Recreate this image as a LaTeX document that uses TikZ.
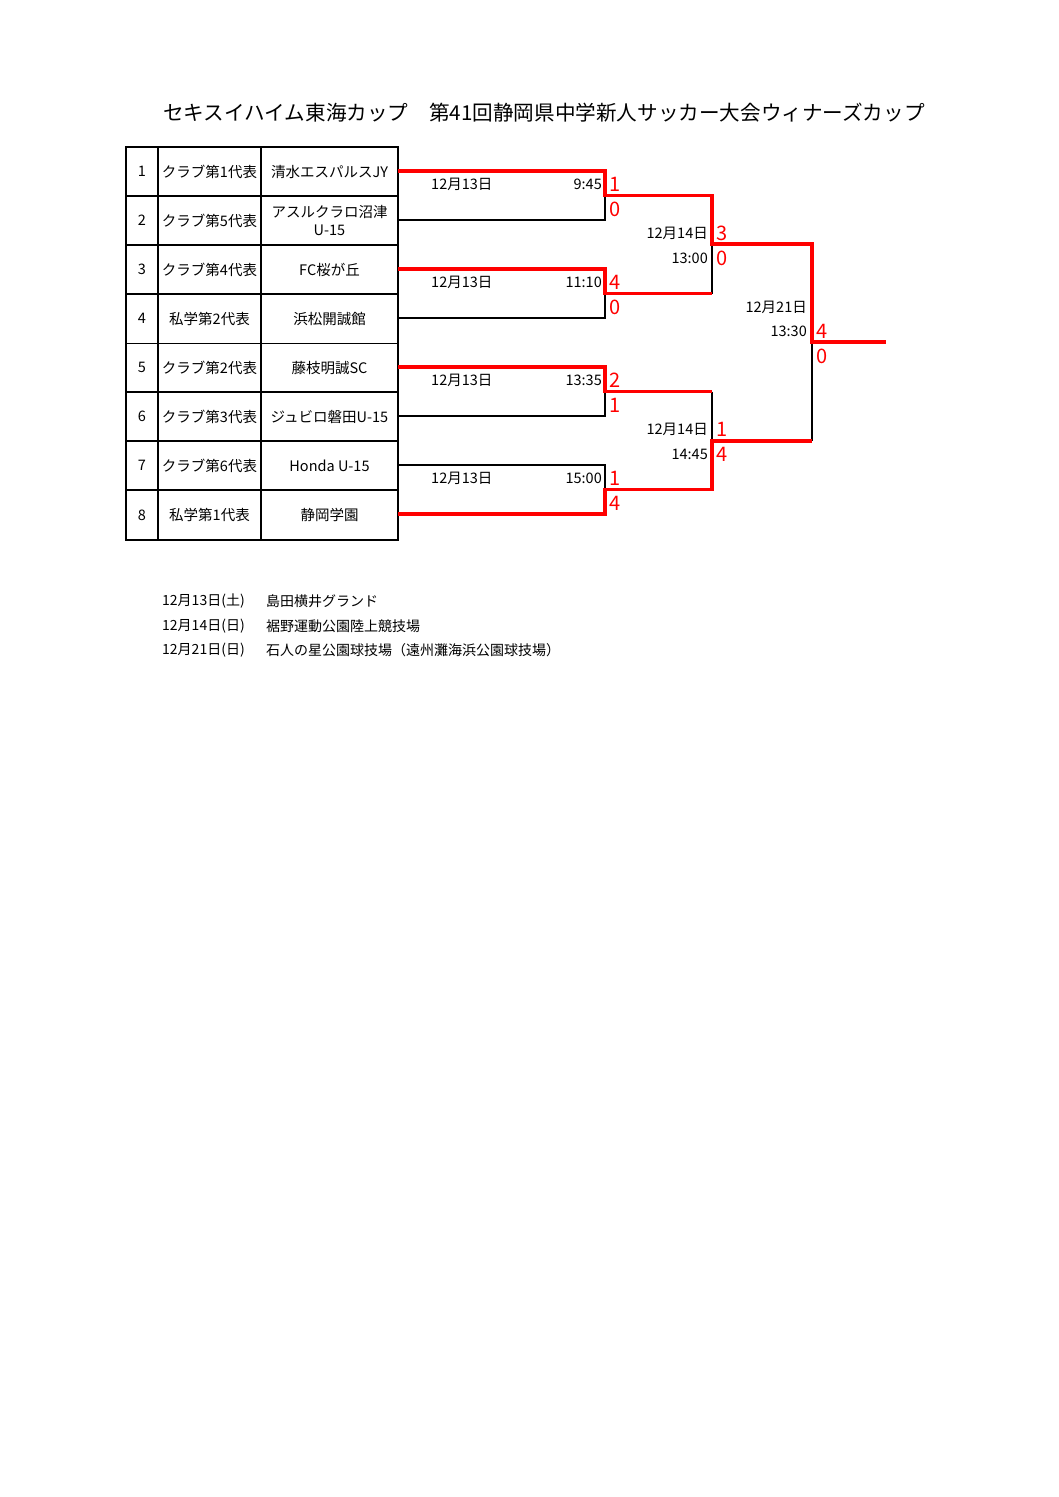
\documentclass[tikz,border=0pt]{standalone}
\usepackage{fontspec}
\setmainfont{Noto Sans CJK JP}
\begin{document}
\begin{tikzpicture}[x=1pt,y=-1pt,
  cell/.style={inner sep=0pt, font=\fontsize{14.5}{18}\selectfont, align=center},
  lbl/.style={inner sep=0pt, font=\fontsize{14.5}{16}\selectfont},
  note/.style={inner sep=0pt, anchor=west, font=\fontsize{14}{16}\selectfont},
  score/.style={inner sep=0pt, anchor=west, text=red, font=\fontsize{20}{22}\selectfont},
  thinline/.style={line width=1.2pt, black},
  winline/.style={line width=3.6pt, red, line join=miter},
  grid/.style={line width=1.4pt, black}]
\useasboundingbox (0,0) rectangle (1058,1497);

% title
\node[inner sep=0pt, anchor=west, font=\fontsize{20.6}{22}\selectfont] (title) at (163,113) {セキスイハイム東海カップ　第41回静岡県中学新人サッカー大会ウィナーズカップ};

% table grid
\draw[grid] (126,147) rectangle (398,540);
\draw[grid] (158,147) -- (158,540);
\draw[grid] (261,147) -- (261,540);
\foreach \yy in {196,245,294,343.5,392,441,490} \draw[grid] (126,\yy) -- (398,\yy);

% table cells
\foreach \i/\yc/\rep/\team in {
  1/171.5/クラブ第1代表/清水エスパルスJY,
  3/269.5/クラブ第4代表/FC桜が丘,
  4/318.75/私学第2代表/浜松開誠館,
  5/367.75/クラブ第2代表/藤枝明誠SC,
  6/416.5/クラブ第3代表/ジュビロ磐田U-15,
  7/465.5/クラブ第6代表/Honda U-15,
  8/515/私学第1代表/静岡学園}{
  \node[cell] (num\i) at (142,\yc) {\i};
  \node[cell] (rep\i) at (209.5,\yc) {\rep};
  \node[cell] (team\i) at (329.5,\yc) {\team};
}
\node[cell] (num2) at (142,220.5) {2};
\node[cell] (rep2) at (209.5,220.5) {クラブ第5代表};
\node[cell] (team2) at (329.5,220.5) {アスルクラロ沼津\\U-15};

% bracket coordinates
\foreach \i/\yy in {1/171,2/220,3/269,4/318,5/367,6/416,7/465,8/514}{
  \coordinate (t\i) at (398,\yy);
  \coordinate (e\i) at (605,\yy);
}
\coordinate (m1) at (605,195.5); \coordinate (n1) at (712,195.5);
\coordinate (m2) at (605,293.5); \coordinate (n2) at (712,293.5);
\coordinate (m3) at (605,391.5); \coordinate (n3) at (712,391.5);
\coordinate (m4) at (605,489.5); \coordinate (n4) at (712,489.5);
\coordinate (s1) at (712,244); \coordinate (u1) at (812,244);
\coordinate (s2) at (712,441); \coordinate (u2) at (812,441);
\coordinate (f) at (812,342); \coordinate (champ) at (886,342);

% losers (black)
\draw[thinline] (t2) -- (e2) -- (m1);
\draw[thinline] (t4) -- (e4) -- (m2);
\draw[thinline] (t6) -- (e6) -- (m3);
\draw[thinline] (t7) -- (e7) -- (m4);
\draw[thinline] (s1) -- (n2);
\draw[thinline] (n3) -- (s2);
\draw[thinline] (f) -- (u2);

% winners (red)
\draw[winline] (t1) -- (e1) -- (m1) -- (n1) -- (s1) -- (u1) -- (f) -- (champ);
\draw[winline] (t3) -- (e3) -- (m2) -- (n2);
\draw[winline] (t5) -- (e5) -- (m3) -- (n3);
\draw[winline] (t8) -- (e8) -- (m4) -- (n4) -- (s2) -- (u2);

% round 1 labels
\foreach \k/\yy/\yb/\tm/\sa/\sb in {1/184/209/9:45/1/0, 2/282/307/11:10/4/0, 3/380/405/13:35/2/1, 4/478/503/15:00/1/4}{
  \node[lbl, anchor=west] (d\k) at (431,\yy) {12月13日};
  \node[lbl, anchor=east] (h\k) at (602,\yy) {\tm};
  \node[score] (sa\k) at (609,\yy) {\sa};
  \node[score] (sb\k) at (609,\yb) {\sb};
}
% semifinal labels
\foreach \k/\yy/\yb/\tm/\sa/\sb in {5/233/258/13:00/3/0, 6/429/454/14:45/1/4}{
  \node[lbl, anchor=east] (d\k) at (708,\yy) {12月14日};
  \node[lbl, anchor=east] (h\k) at (708,\yb) {\tm};
  \node[score] (sa\k) at (716,\yy) {\sa};
  \node[score] (sb\k) at (716,\yb) {\sb};
}
% final labels
\node[lbl, anchor=east] (d7) at (807,307) {12月21日};
\node[lbl, anchor=east] (h7) at (807,331) {13:30};
\node[score] (sa7) at (816,331) {4};
\node[score] (sb7) at (816,356) {0};

% venue notes
\node[note] (v1d) at (162,601) {12月13日(土)};
\node[note] (v1p) at (266,601) {島田横井グランド};
\node[note] (v2d) at (162,626) {12月14日(日)};
\node[note] (v2p) at (266,626) {裾野運動公園陸上競技場};
\node[note] (v3d) at (162,650) {12月21日(日)};
\node[note] (v3p) at (266,650) {石人の星公園球技場（遠州灘海浜公園球技場）};
\end{tikzpicture}
\end{document}
